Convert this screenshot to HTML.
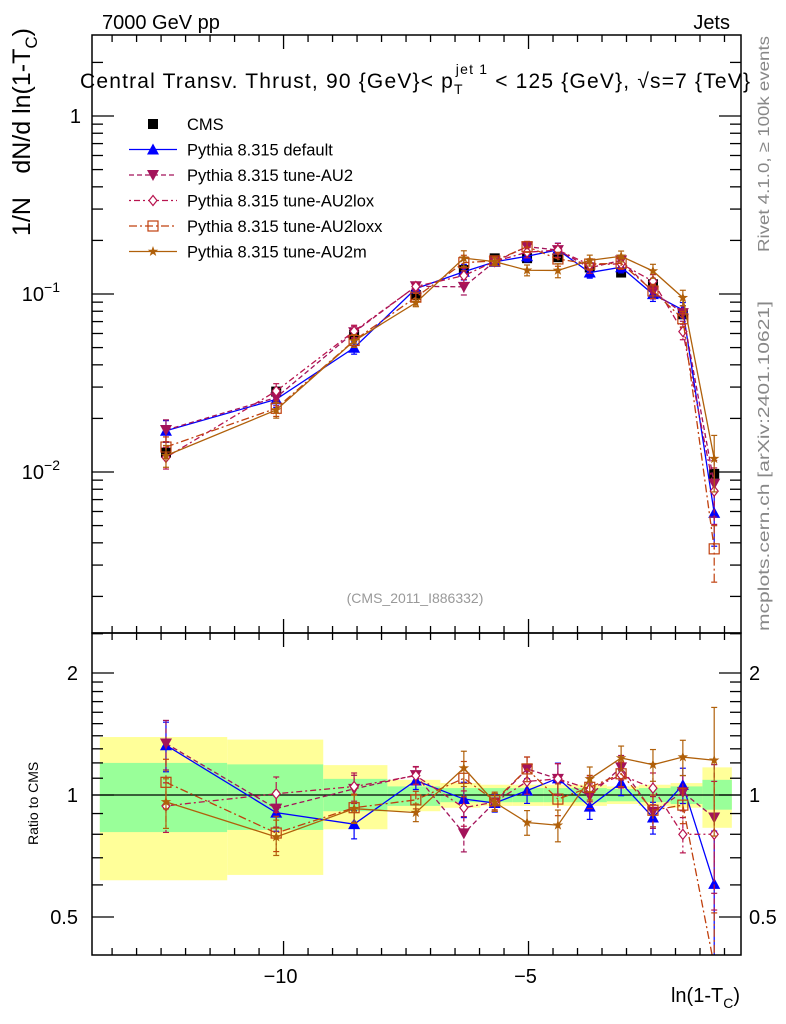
<!DOCTYPE html>
<html><head><meta charset="utf-8"><style>
body{margin:0;background:#fff;}
svg{display:block;font-family:"Liberation Sans",Arial,sans-serif;}
</style></head><body>
<svg id="c" width="786" height="1024" viewBox="0 0 786 1024" xmlns="http://www.w3.org/2000/svg">
<g id="bands"></g>
<g id="marks"></g>
<g id="axes"></g>
<text x="102" y="29" font-size="20">7000 GeV pp</text>
<text x="730" y="29" font-size="20" text-anchor="end">Jets</text>
<text x="80" y="88" font-size="21" textLength="670" lengthAdjust="spacing">Central Transv. Thrust, 90 {GeV}&lt; p<tspan font-size="14" dy="6">T</tspan><tspan font-size="14" dx="-8" dy="-20">jet 1</tspan><tspan dy="14"> &lt; 125 {GeV}, √s=7 {TeV}</tspan></text>
<g>
<text transform="translate(30,236) rotate(-90)" font-size="25">1/N</text>
<text transform="translate(30,28) rotate(-90)" font-size="25" text-anchor="end">dN/d ln(1-T<tspan font-size="17" dy="7">C</tspan><tspan dy="-7">)</tspan></text>
</g>
<text transform="translate(38,845) rotate(-90)" font-size="14">Ratio to CMS</text>
<text x="740" y="1002" font-size="20" text-anchor="end">ln(1-T<tspan font-size="14" dy="6">C</tspan><tspan dy="-6">)</tspan></text>
<text transform="translate(769,252) rotate(-90)" font-size="16" fill="#888" textLength="216" lengthAdjust="spacingAndGlyphs">Rivet 4.1.0, ≥ 100k events</text>
<text transform="translate(769,631) rotate(-90)" font-size="16" fill="#888" textLength="330" lengthAdjust="spacingAndGlyphs">mcplots.cern.ch [arXiv:2401.10621]</text>
<text x="415" y="603" font-size="14" fill="#999" text-anchor="middle">(CMS_2011_I886332)</text>
<g id="legend"></g>
</svg>
<script>
const xs = [-12.40,-10.15,-8.56,-7.30,-6.32,-5.69,-5.03,-4.40,-3.75,-3.11,-2.46,-1.85,-1.21];
const edges = [-13.75,-11.15,-9.19,-7.88,-6.80,-5.98,-5.33,-4.70,-4.05,-3.40,-2.75,-2.10,-1.45,-0.85];
const cms = [0.01285,0.0283,0.0589,0.0987,0.1364,0.1586,0.159,0.161,0.141,0.132,0.1134,0.0769,0.00976];
const cmsErr = [0.06,0.05,0.04,0.03,0.03,0.03,0.03,0.03,0.03,0.03,0.03,0.03,0.05];
const yelUp = [1.39,1.37,1.185,1.09,1.07,1.06,1.06,1.06,1.06,1.05,1.06,1.07,1.17];
const yelDn = [0.616,0.635,0.823,0.912,0.93,0.94,0.94,0.94,0.94,0.95,0.94,0.93,0.83];
const grnUp = [1.20,1.19,1.096,1.05,1.04,1.04,1.04,1.04,1.04,1.035,1.04,1.05,1.09];
const grnDn = [0.81,0.82,0.912,0.94,0.96,0.96,0.96,0.96,0.96,0.965,0.96,0.95,0.92];
const sDefault = [0.01705,0.0256,0.0499,0.1072,0.1333,0.1515,0.163,0.177,0.132,0.1414,0.0998,0.0814,0.00589];
const sAU2 = [0.01722,0.0262,0.061,0.1105,0.1097,0.1521,0.1844,0.1765,0.1404,0.1544,0.1031,0.0781,0.00859];
const sAU2lox = [0.01208,0.0285,0.0618,0.1102,0.1269,0.1523,0.1717,0.1765,0.1459,0.1478,0.1179,0.0615,0.00781];
const sAU2loxx = [0.01381,0.0228,0.0548,0.096,0.150,0.1535,0.1844,0.1573,0.1473,0.1489,0.104,0.0726,0.0037];
const sAU2m = [0.01236,0.0223,0.0545,0.0893,0.159,0.1521,0.136,0.1356,0.1545,0.1629,0.1347,0.0954,0.01189];
const mcErr = [0.14,0.10,0.08,0.05,0.10,0.05,0.07,0.09,0.07,0.07,0.09,0.10,0.35];
const seriesNames = ["Pythia 8.315 default","Pythia 8.315 tune-AU2","Pythia 8.315 tune-AU2lox","Pythia 8.315 tune-AU2loxx","Pythia 8.315 tune-AU2m"];

const NS="http://www.w3.org/2000/svg";
const L=92,R=741,T=35,B=633,RB=955;
const XMIN=-13.91,XMAX=-0.663;
const X=v=>L+(v-XMIN)/(XMAX-XMIN)*(R-L);
const Y=v=>116-178*Math.log10(v);
const YR=r=>795-122*Math.log2(r);
function el(tag,attrs,parent){const e=document.createElementNS(NS,tag);for(const k in attrs)e.setAttribute(k,attrs[k]);parent.appendChild(e);return e;}
const bands=document.getElementById('bands'),marks=document.getElementById('marks'),axes=document.getElementById('axes'),legend=document.getElementById('legend');
const svg=document.getElementById('c');
const defs=el('defs',{},svg);
const cp1=el('clipPath',{id:'cm'},defs);el('rect',{x:L,y:T,width:R-L,height:B-T},cp1);
const cp2=el('clipPath',{id:'cr'},defs);el('rect',{x:L,y:B,width:R-L,height:RB-B},cp2);

for(let i=0;i<xs.length;i++){
  const x0=X(edges[i]),x1=X(edges[i+1]);
  const r1=el('rect',{x:x0,y:YR(yelUp[i]),width:x1-x0,height:YR(yelDn[i])-YR(yelUp[i]),fill:'#ffff99'},bands);
  
  
  const r2=el('rect',{x:x0,y:YR(grnUp[i]),width:x1-x0,height:YR(grnDn[i])-YR(grnUp[i]),fill:'#99ff99'},bands);
  
  
}
el('line',{x1:L,x2:R,y1:YR(1),y2:YR(1),stroke:'#000','stroke-width':1.3},bands);

function marker(type,x,y,col,g){
  let m;
  if(type==='sq') m=el('rect',{x:x-5,y:y-5,width:10,height:10,fill:'#000'},g);
  else if(type==='tri') m=el('polygon',{points:`${x},${y-6} ${x-6},${y+5} ${x+6},${y+5}`,fill:col},g);
  else if(type==='dtri') m=el('polygon',{points:`${x},${y+6} ${x-6},${y-5} ${x+6},${y-5}`,fill:col},g);
  else if(type==='dia') m=el('polygon',{points:`${x},${y-5} ${x-4},${y} ${x},${y+5} ${x+4},${y}`,fill:'#fff',stroke:col,'stroke-width':1.2},g);
  else if(type==='osq') m=el('rect',{x:x-5,y:y-5,width:10,height:10,fill:'none',stroke:col,'stroke-width':1.2},g);
  else if(type==='star'){let p=[];for(let k=0;k<10;k++){const a=-Math.PI/2+k*Math.PI/5,rr=k%2?2.2:5.5;p.push((x+rr*Math.cos(a))+','+(y+rr*Math.sin(a)));}m=el('polygon',{points:p.join(' '),fill:col},g);}
  return m;
}
const styles=[
 {data:sDefault,col:'#0000ff',dash:'',m:'tri',name:'series-default'},
 {data:sAU2,col:'#a3135a',dash:'5,3',m:'dtri',name:'series-au2'},
 {data:sAU2lox,col:'#b8154f',dash:'2,3,6,3',m:'dia',name:'series-au2lox'},
 {data:sAU2loxx,col:'#c0400e',dash:'8,3,2,3',m:'osq',name:'series-au2loxx'},
 {data:sAU2m,col:'#b0600a',dash:'',m:'star',name:'series-au2m'}
];
const gc=el('g',{'clip-path':'url(#cm)'},marks);


for(let i=0;i<xs.length;i++){
  const x=X(xs[i]);
  el('line',{x1:x,x2:x,y1:Y(cms[i]*(1+cmsErr[i])),y2:Y(cms[i]*(1-cmsErr[i])),stroke:'#000','stroke-width':1.2},gc);
  const m=marker('sq',x,Y(cms[i]),'#000',gc);
  
  
}
styles.forEach(s=>{
  for(const [panel,fy,clip,vals] of [['main',Y,'cm',s.data],['ratio',YR,'cr',s.data.map((v,i)=>v/cms[i])]]){
    const g=el('g',{'clip-path':`url(#${clip})`},marks);
    
    
    const pts=xs.map((xv,i)=>X(xv)+','+fy(vals[i])).join(' ');
    const pl=el('polyline',{points:pts,fill:'none',stroke:s.col,'stroke-width':1.3,'stroke-dasharray':s.dash},g);
    
    
    for(let i=0;i<xs.length;i++){
      const x=X(xs[i]),e=mcErr[i];
      const yu=fy(vals[i]*(1+e)),yd=fy(vals[i]*Math.max(0.05,1-e));
      el('line',{x1:x,x2:x,y1:yu,y2:yd,stroke:s.col,'stroke-width':1.2,'stroke-dasharray':s.dash},g);
      el('line',{x1:x-3,x2:x+3,y1:yu,y2:yu,stroke:s.col,'stroke-width':1.2},g);
      el('line',{x1:x-3,x2:x+3,y1:yd,y2:yd,stroke:s.col,'stroke-width':1.2},g);
      const m=marker(s.m,x,fy(vals[i]),s.col,g);
      
      
    }
  }
});
el('rect',{x:L,y:T,width:R-L,height:B-T,fill:'none',stroke:'#000','stroke-width':1.5},axes);
el('rect',{x:L,y:B,width:R-L,height:RB-B,fill:'none',stroke:'#000','stroke-width':1.5},axes);
for(let d=-3;d<=0;d++){for(let k=1;k<10;k++){const v=k*Math.pow(10,d);const y=Y(v);if(y<T||y>B)continue;const len=k===1?22:11;
 el('line',{x1:L,x2:L+len,y1:y,y2:y,stroke:'#000','stroke-width':1.3},axes);el('line',{x1:R,x2:R-len,y1:y,y2:y,stroke:'#000','stroke-width':1.3},axes);}}
const yTick=[[1,'1',''],[0.1,'10','−1'],[0.01,'10','−2']];
yTick.forEach(([v,b,e])=>{const t=el('text',{x:e?60:81,y:Y(v)+7,'font-size':20,'text-anchor':'end'},axes);t.textContent=b;
 
 
 if(e){const s=el('tspan',{'font-size':14,dy:-9},t);s.textContent=e;}});
for(const r of [0.4,0.5,0.6,0.7,0.8,0.9,1,1.1,1.2,1.3,1.4,1.5,1.6,1.7,1.8,1.9,2,2.5]){const y=YR(r);if(y<B||y>RB)continue;const len=(r===1||r===2||r===0.5)?22:11;
 el('line',{x1:L,x2:L+len,y1:y,y2:y,stroke:'#000','stroke-width':1.3},axes);el('line',{x1:R,x2:R-len,y1:y,y2:y,stroke:'#000','stroke-width':1.3},axes);}
for(const [r,lab] of [[2,'2'],[1,'1'],[0.5,'0.5']]){
 const t1=el('text',{x:78,y:YR(r)+7,'font-size':20,'text-anchor':'end'},axes);t1.textContent=lab;
 
 
 const t2=el('text',{x:749,y:YR(r)+7,'font-size':20},axes);t2.textContent=lab;
 
 }
for(let v=-13.5;v<=-0.7;v+=0.5){const x=X(v);const maj=Math.abs(v%5)<0.01;const len=maj?14:7;
 for(const yb of [B,RB]){el('line',{x1:x,x2:x,y1:yb,y2:yb-len,stroke:'#000','stroke-width':1.3},axes);}
 el('line',{x1:x,x2:x,y1:T,y2:T+len,stroke:'#000','stroke-width':1.3},axes);
 el('line',{x1:x,x2:x,y1:B,y2:B+len,stroke:'#000','stroke-width':1.3},axes);}
for(const v of [-10,-5]){const t=el('text',{x:X(v)-3,y:983,'font-size':20,'text-anchor':'middle'},axes);t.textContent='−'+Math.abs(v);
 
 }
const lg=[{m:'sq',col:'#000',dash:'',line:false,name:'CMS'}].concat(styles.map((s,i)=>({m:s.m,col:s.col,dash:s.dash,line:true,name:seriesNames[i]})));
lg.forEach((e,i)=>{const y=124+i*25.5;const g=el('g',{},legend);
 
 
 if(e.line) el('line',{x1:129,x2:177,y1:y,y2:y,stroke:e.col,'stroke-width':1.3,'stroke-dasharray':e.dash},g);
 marker(e.m,153,y,e.col,g);
 const t=el('text',{x:187,y:y+6,'font-size':16.5},g);t.textContent=e.name;});
</script>
</body></html>
